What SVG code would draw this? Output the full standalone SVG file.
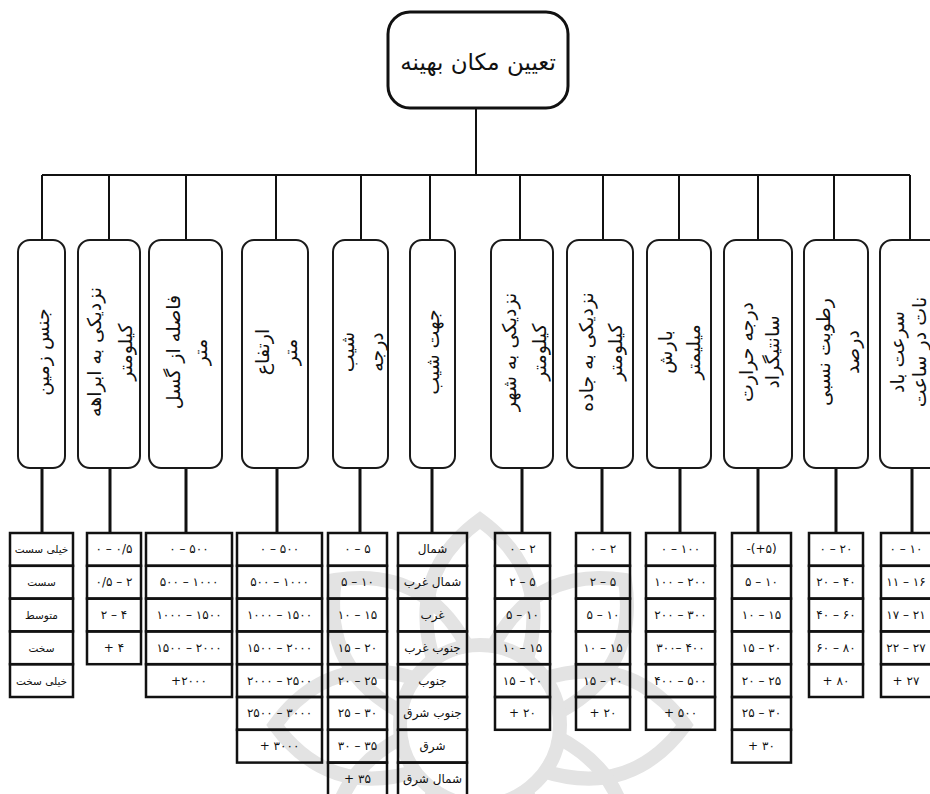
<svg xmlns="http://www.w3.org/2000/svg" width="930" height="794" viewBox="0 0 930 794">
<style>
.bg{fill:#fff}
.wm{fill:none;stroke:#e3e3e3;stroke-width:14}
.root{fill:#fff;stroke:#111;stroke-width:3}
.box{fill:#fff;stroke:#1a1a1a;stroke-width:2}
.cell{fill:none;stroke:#111;stroke-width:2.5}
.ln{stroke:#111;stroke-width:2;fill:none}
.stem{stroke:#111;stroke-width:3;fill:none}
.t{font-family:"DejaVu Sans",sans-serif;fill:#111;text-anchor:middle;dominant-baseline:central}
.title{font-size:23px}
.lab{font-size:19px}
.c{font-size:12px}
.cs{font-size:10.5px}
</style>
<defs>
<path id="petal" d="M-45,-60 Q-75,-150 0,-205 Q75,-150 45,-60"/>
</defs>
<rect class="bg" x="0" y="0" width="930" height="794"/>
<g id="watermark" class="wm" transform="translate(480,725)">
<use href="#petal"/>
<use href="#petal" transform="rotate(45)"/>
<use href="#petal" transform="rotate(90)"/>
<use href="#petal" transform="rotate(135)"/>
<use href="#petal" transform="rotate(180)"/>
<use href="#petal" transform="rotate(225)"/>
<use href="#petal" transform="rotate(270)"/>
<use href="#petal" transform="rotate(315)"/>
<circle r="80"/>
</g>
<g id="connectors">
<path class="ln" d="M476 108V175M42 175H910"/>
<path class="ln" d="M42 175V240M109 175V240M186 175V240M276 175V240M361 175V240M430 175V240M520 175V240M603 175V240M679 175V240M758 175V240M834 175V240M910 175V240"/>
<path class="stem" d="M42 468V533M110 468V533M186 468V533M277 468V533M360 468V533M432 468V533M522 468V533M602 468V533M680 468V533M758 468V533M836 468V533M912 468V533"/>
</g>
<g id="root">
<rect class="root" x="388" y="12" width="180" height="96" rx="22"/>
<text class="t title" x="478" y="62">تعیین مکان بهینه</text>
</g>
<g id="n1"><rect class="box" x="18" y="240" width="47" height="228" rx="12"/>
<text class="t lab" transform="translate(42,352) rotate(-90)">جنس زمین</text></g>
<g id="n2"><rect class="box" x="78" y="240" width="62" height="228" rx="12"/>
<text class="t lab" transform="translate(94,352) rotate(-90)">نزدیکی به ابراهه</text>
<text class="t lab" transform="translate(125,352) rotate(-90)">کیلومتر</text></g>
<g id="n3"><rect class="box" x="149" y="240" width="73" height="228" rx="12"/>
<text class="t lab" transform="translate(173,352) rotate(-90)">فاصله از گسل</text>
<text class="t lab" transform="translate(200,352) rotate(-90)">متر</text></g>
<g id="n4"><rect class="box" x="242" y="240" width="66" height="228" rx="12"/>
<text class="t lab" transform="translate(262,352) rotate(-90)">ارتفاع</text>
<text class="t lab" transform="translate(290,352) rotate(-90)">متر</text></g>
<g id="n5"><rect class="box" x="333" y="240" width="55" height="228" rx="12"/>
<text class="t lab" transform="translate(347,352) rotate(-90)">شیب</text>
<text class="t lab" transform="translate(376,352) rotate(-90)">درجه</text></g>
<g id="n6"><rect class="box" x="410" y="240" width="45" height="228" rx="12"/>
<text class="t lab" transform="translate(432,352) rotate(-90)">جهت شیب</text></g>
<g id="n7"><rect class="box" x="491" y="240" width="62" height="228" rx="12"/>
<text class="t lab" transform="translate(509,352) rotate(-90)">نزدیکی به شهر</text>
<text class="t lab" transform="translate(539,352) rotate(-90)">کیلومتر</text></g>
<g id="n8"><rect class="box" x="567" y="240" width="66" height="228" rx="12"/>
<text class="t lab" transform="translate(586,352) rotate(-90)">نزدیکی به جاده</text>
<text class="t lab" transform="translate(615,352) rotate(-90)">کیلومتر</text></g>
<g id="n9"><rect class="box" x="647" y="240" width="64" height="228" rx="12"/>
<text class="t lab" transform="translate(665,352) rotate(-90)">بارش</text>
<text class="t lab" transform="translate(693,352) rotate(-90)">میلیمتر</text></g>
<g id="n10"><rect class="box" x="724" y="240" width="68" height="228" rx="12"/>
<text class="t lab" transform="translate(746,352) rotate(-90)">درجه حرارت</text>
<text class="t lab" transform="translate(772,352) rotate(-90)">سانتیگراد</text></g>
<g id="n11"><rect class="box" x="804" y="240" width="64" height="228" rx="12"/>
<text class="t lab" transform="translate(823,352) rotate(-90)">رطوبت نسبی</text>
<text class="t lab" transform="translate(852,352) rotate(-90)">درصد</text></g>
<g id="n12"><rect class="box" x="880" y="240" width="66" height="228" rx="12"/>
<text class="t lab" transform="translate(897,352) rotate(-90)">سرعت باد</text>
<text class="t lab" transform="translate(919,352) rotate(-90)">نات در ساعت</text></g>

<g id="t1">
<rect class="cell" x="10" y="533" width="63" height="32.8"/><rect class="cell" x="10" y="565.8" width="63" height="32.8"/><rect class="cell" x="10" y="598.6" width="63" height="32.8"/><rect class="cell" x="10" y="631.4" width="63" height="32.8"/><rect class="cell" x="10" y="664.2" width="63" height="32.8"/>
<text class="t cs" x="41.5" y="549.4">خیلی سست</text><text class="t cs" x="41.5" y="582.2">سست</text><text class="t cs" x="41.5" y="615">متوسط</text><text class="t cs" x="41.5" y="647.8">سخت</text><text class="t cs" x="41.5" y="680.6">خیلی سخت</text>
</g>
<g id="t2">
<rect class="cell" x="87" y="533" width="54" height="32.8"/><rect class="cell" x="87" y="565.8" width="54" height="32.8"/><rect class="cell" x="87" y="598.6" width="54" height="32.8"/><rect class="cell" x="87" y="631.4" width="54" height="32.8"/>
<text class="t c" x="114" y="549.4">۰ – ۰/۵</text><text class="t c" x="114" y="582.2">۰/۵ – ۲</text><text class="t c" x="114" y="615">۲ – ۴</text><text class="t c" x="114" y="647.8">+ ۴</text>
</g>
<g id="t3">
<rect class="cell" x="146" y="533" width="86" height="32.8"/><rect class="cell" x="146" y="565.8" width="86" height="32.8"/><rect class="cell" x="146" y="598.6" width="86" height="32.8"/><rect class="cell" x="146" y="631.4" width="86" height="32.8"/><rect class="cell" x="146" y="664.2" width="86" height="32.8"/>
<text class="t c" x="189" y="549.4">۰ – ۵۰۰</text><text class="t c" x="189" y="582.2">۵۰۰ – ۱۰۰۰</text><text class="t c" x="189" y="615">۱۰۰۰ – ۱۵۰۰</text><text class="t c" x="189" y="647.8">۱۵۰۰ – ۲۰۰۰</text><text class="t c" x="189" y="680.6">+۲۰۰۰</text>
</g>
<g id="t4">
<rect class="cell" x="237" y="533" width="85" height="32.8"/><rect class="cell" x="237" y="565.8" width="85" height="32.8"/><rect class="cell" x="237" y="598.6" width="85" height="32.8"/><rect class="cell" x="237" y="631.4" width="85" height="32.8"/><rect class="cell" x="237" y="664.2" width="85" height="32.8"/><rect class="cell" x="237" y="697" width="85" height="32.8"/><rect class="cell" x="237" y="729.8" width="85" height="32.8"/>
<text class="t c" x="279.5" y="549.4">۰ – ۵۰۰</text><text class="t c" x="279.5" y="582.2">۵۰۰ – ۱۰۰۰</text><text class="t c" x="279.5" y="615">۱۰۰۰ – ۱۵۰۰</text><text class="t c" x="279.5" y="647.8">۱۵۰۰ – ۲۰۰۰</text><text class="t c" x="279.5" y="680.6">۲۰۰۰ – ۲۵۰۰</text><text class="t c" x="279.5" y="713.4">۲۵۰۰ – ۳۰۰۰</text><text class="t c" x="279.5" y="746.2">+ ۳۰۰۰</text>
</g>
<g id="t5">
<rect class="cell" x="328" y="533" width="59" height="32.8"/><rect class="cell" x="328" y="565.8" width="59" height="32.8"/><rect class="cell" x="328" y="598.6" width="59" height="32.8"/><rect class="cell" x="328" y="631.4" width="59" height="32.8"/><rect class="cell" x="328" y="664.2" width="59" height="32.8"/><rect class="cell" x="328" y="697" width="59" height="32.8"/><rect class="cell" x="328" y="729.8" width="59" height="32.8"/><rect class="cell" x="328" y="762.6" width="59" height="32.8"/>
<text class="t c" x="357.5" y="549.4">۰ – ۵</text><text class="t c" x="357.5" y="582.2">۵ – ۱۰</text><text class="t c" x="357.5" y="615">۱۰ – ۱۵</text><text class="t c" x="357.5" y="647.8">۱۵ – ۲۰</text><text class="t c" x="357.5" y="680.6">۲۰ – ۲۵</text><text class="t c" x="357.5" y="713.4">۲۵ – ۳۰</text><text class="t c" x="357.5" y="746.2">۳۰ – ۳۵</text><text class="t c" x="357.5" y="779">+ ۳۵</text>
</g>
<g id="t6">
<rect class="cell" x="398" y="533" width="69" height="32.8"/><rect class="cell" x="398" y="565.8" width="69" height="32.8"/><rect class="cell" x="398" y="598.6" width="69" height="32.8"/><rect class="cell" x="398" y="631.4" width="69" height="32.8"/><rect class="cell" x="398" y="664.2" width="69" height="32.8"/><rect class="cell" x="398" y="697" width="69" height="32.8"/><rect class="cell" x="398" y="729.8" width="69" height="32.8"/><rect class="cell" x="398" y="762.6" width="69" height="32.8"/>
<text class="t c" x="432.5" y="549.4">شمال</text><text class="t c" x="432.5" y="582.2">شمال غرب</text><text class="t c" x="432.5" y="615">غرب</text><text class="t c" x="432.5" y="647.8">جنوب غرب</text><text class="t c" x="432.5" y="680.6">جنوب</text><text class="t c" x="432.5" y="713.4">جنوب شرق</text><text class="t c" x="432.5" y="746.2">شرق</text><text class="t c" x="432.5" y="779">شمال شرق</text>
</g>
<g id="t7">
<rect class="cell" x="495" y="533" width="55" height="32.8"/><rect class="cell" x="495" y="565.8" width="55" height="32.8"/><rect class="cell" x="495" y="598.6" width="55" height="32.8"/><rect class="cell" x="495" y="631.4" width="55" height="32.8"/><rect class="cell" x="495" y="664.2" width="55" height="32.8"/><rect class="cell" x="495" y="697" width="55" height="32.8"/>
<text class="t c" x="522.5" y="549.4">۰ – ۲</text><text class="t c" x="522.5" y="582.2">۲ – ۵</text><text class="t c" x="522.5" y="615">۵ – ۱۰</text><text class="t c" x="522.5" y="647.8">۱۰ – ۱۵</text><text class="t c" x="522.5" y="680.6">۱۵ – ۲۰</text><text class="t c" x="522.5" y="713.4">+ ۲۰</text>
</g>
<g id="t8">
<rect class="cell" x="576" y="533" width="54" height="32.8"/><rect class="cell" x="576" y="565.8" width="54" height="32.8"/><rect class="cell" x="576" y="598.6" width="54" height="32.8"/><rect class="cell" x="576" y="631.4" width="54" height="32.8"/><rect class="cell" x="576" y="664.2" width="54" height="32.8"/><rect class="cell" x="576" y="697" width="54" height="32.8"/>
<text class="t c" x="603" y="549.4">۰ – ۲</text><text class="t c" x="603" y="582.2">۲ – ۵</text><text class="t c" x="603" y="615">۵ – ۱۰</text><text class="t c" x="603" y="647.8">۱۰ – ۱۵</text><text class="t c" x="603" y="680.6">۱۵ – ۲۰</text><text class="t c" x="603" y="713.4">+ ۲۰</text>
</g>
<g id="t9">
<rect class="cell" x="646" y="533" width="69" height="32.8"/><rect class="cell" x="646" y="565.8" width="69" height="32.8"/><rect class="cell" x="646" y="598.6" width="69" height="32.8"/><rect class="cell" x="646" y="631.4" width="69" height="32.8"/><rect class="cell" x="646" y="664.2" width="69" height="32.8"/><rect class="cell" x="646" y="697" width="69" height="32.8"/>
<text class="t c" x="680.5" y="549.4">۰ – ۱۰۰</text><text class="t c" x="680.5" y="582.2">۱۰۰ – ۲۰۰</text><text class="t c" x="680.5" y="615">۲۰۰ – ۳۰۰</text><text class="t c" x="680.5" y="647.8">۳۰۰– ۴۰۰</text><text class="t c" x="680.5" y="680.6">۴۰۰ – ۵۰۰</text><text class="t c" x="680.5" y="713.4">+ ۵۰۰</text>
</g>
<g id="t10">
<rect class="cell" x="732" y="533" width="59" height="32.8"/><rect class="cell" x="732" y="565.8" width="59" height="32.8"/><rect class="cell" x="732" y="598.6" width="59" height="32.8"/><rect class="cell" x="732" y="631.4" width="59" height="32.8"/><rect class="cell" x="732" y="664.2" width="59" height="32.8"/><rect class="cell" x="732" y="697" width="59" height="32.8"/><rect class="cell" x="732" y="729.8" width="59" height="32.8"/>
<text class="t c" x="761.5" y="549.4">-(+۵)</text><text class="t c" x="761.5" y="582.2">۵ – ۱۰</text><text class="t c" x="761.5" y="615">۱۰ – ۱۵</text><text class="t c" x="761.5" y="647.8">۱۵ – ۲۰</text><text class="t c" x="761.5" y="680.6">۲۰ – ۲۵</text><text class="t c" x="761.5" y="713.4">۲۵ – ۳۰</text><text class="t c" x="761.5" y="746.2">+ ۳۰</text>
</g>
<g id="t11">
<rect class="cell" x="809" y="533" width="54" height="32.8"/><rect class="cell" x="809" y="565.8" width="54" height="32.8"/><rect class="cell" x="809" y="598.6" width="54" height="32.8"/><rect class="cell" x="809" y="631.4" width="54" height="32.8"/><rect class="cell" x="809" y="664.2" width="54" height="32.8"/>
<text class="t c" x="836" y="549.4">۰ – ۲۰</text><text class="t c" x="836" y="582.2">۲۰ – ۴۰</text><text class="t c" x="836" y="615">۴۰ – ۶۰</text><text class="t c" x="836" y="647.8">۶۰ – ۸۰</text><text class="t c" x="836" y="680.6">+ ۸۰</text>
</g>
<g id="t12">
<rect class="cell" x="881" y="533" width="54" height="32.8"/><rect class="cell" x="881" y="565.8" width="54" height="32.8"/><rect class="cell" x="881" y="598.6" width="54" height="32.8"/><rect class="cell" x="881" y="631.4" width="54" height="32.8"/><rect class="cell" x="881" y="664.2" width="54" height="32.8"/>
<text class="t c" x="906" y="549.4">۰ – ۱۰</text><text class="t c" x="906" y="582.2">۱۱ – ۱۶</text><text class="t c" x="906" y="615">۱۷ – ۲۱</text><text class="t c" x="906" y="647.8">۲۲ – ۲۷</text><text class="t c" x="906" y="680.6">+ ۲۷</text>
</g>
</svg>
